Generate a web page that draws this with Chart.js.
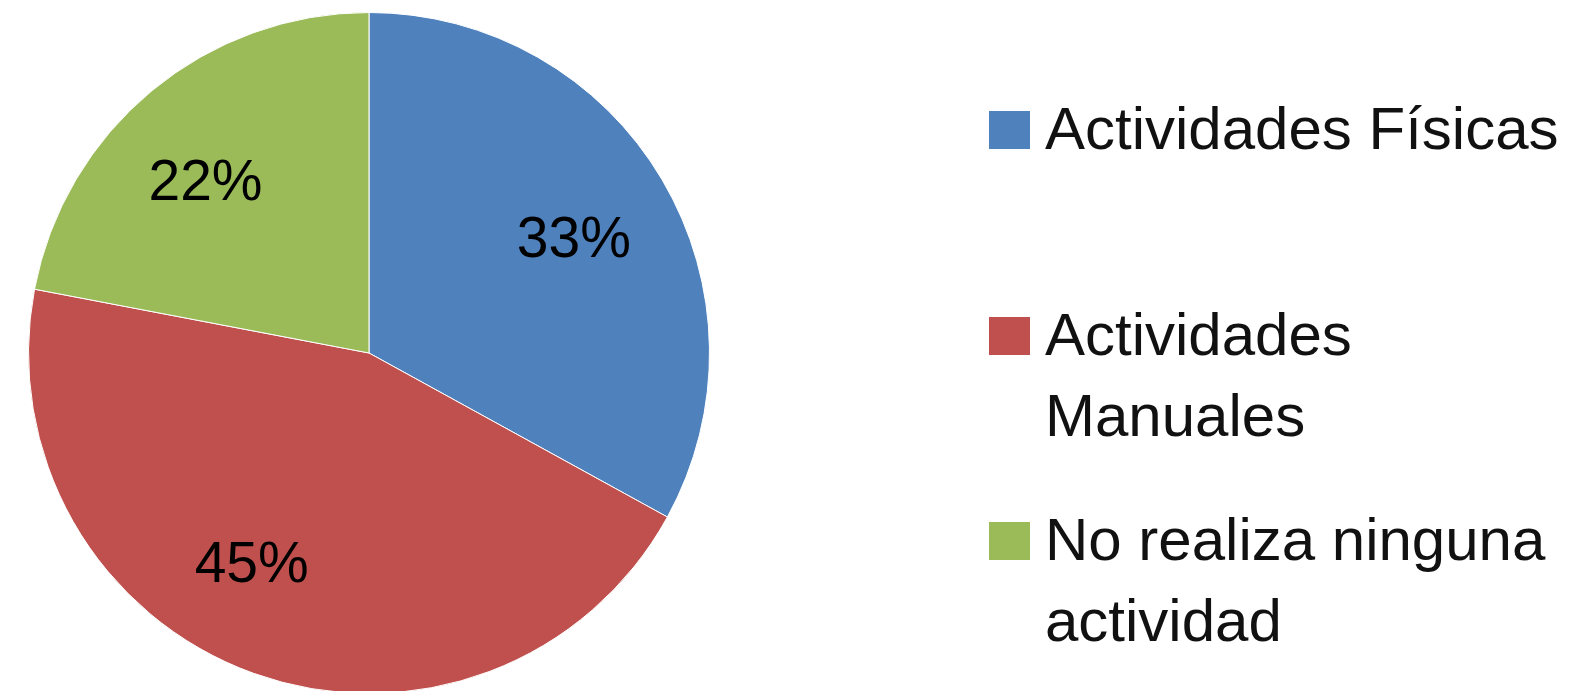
<!DOCTYPE html>
<html>
<head>
<meta charset="utf-8">
<script src="https://cdn.jsdelivr.net/npm/chart.js@4/dist/chart.umd.min.js"></script>
<style>
  html, body { margin: 0; padding: 0; background: #fff; overflow: hidden; }
  body { width: 1583px; height: 691px; position: relative; }
  #pieBox { position: absolute; left: 28px; top: 12px; width: 682px; height: 682px; }
  .legItem { position: absolute; left: 989px; }
  .legBox { position: absolute; left: 0; top: 23px; width: 41px; height: 38px; }
  .legText { position: absolute; left: 56px; top: 0; width: 535px;
             font-family: "Liberation Sans", Arial, sans-serif; font-size: 60px;
             line-height: 81px; color: #111; }
</style>
</head>
<body>
<div id="pieBox"><canvas id="pie"></canvas></div>
<div id="legend"></div>
<script>
const categories = ['Actividades Físicas', 'Actividades Manuales', 'No realiza ninguna actividad'];
const values = [33, 45, 22];
const colors = ['#4F81BD', '#C0504D', '#9BBB59'];

// percent labels drawn inside each slice (small per-slice tweaks, like Excel's best fit)
const angleTweak = [2, 9, -4.5];      // degrees
const radiusFrac = [0.685, 0.715, 0.69];

const pctLabels = {
    id: 'pctLabels',
    afterDatasetsDraw(chart) {
        const ctx = chart.ctx;
        const total = values.reduce((a, b) => a + b, 0);
        const arcs = chart.getDatasetMeta(0).data;
        ctx.save();
        ctx.font = '57px "Liberation Sans", Arial, sans-serif';
        ctx.fillStyle = '#000';
        ctx.textAlign = 'center';
        ctx.textBaseline = 'middle';
        arcs.forEach((arc, i) => {
            const p = arc.getProps(['x', 'y', 'startAngle', 'endAngle', 'outerRadius'], true);
            const mid = (p.startAngle + p.endAngle) / 2 + angleTweak[i] * Math.PI / 180;
            const r = p.outerRadius * radiusFrac[i];
            const txt = Math.round(values[i] / total * 100) + '%';
            ctx.fillText(txt, p.x + Math.cos(mid) * r, p.y + Math.sin(mid) * r);
        });
        ctx.restore();
    }
};

new Chart(document.getElementById('pie'), {
    type: 'pie',
    data: {
        labels: categories,
        datasets: [{
            data: values,
            backgroundColor: colors,
            borderColor: '#ffffff',
            borderWidth: 1
        }]
    },
    options: {
        responsive: true,
        maintainAspectRatio: false,
        animation: false,
        layout: { padding: 0 },
        plugins: {
            legend: { display: false },
            tooltip: { enabled: false }
        }
    },
    plugins: [pctLabels]
});

// legend on the right, built from the same arrays
const legend = document.getElementById('legend');
categories.forEach((name, i) => {
    const item = document.createElement('div');
    item.className = 'legItem';
    item.style.top = (88 + i * 205.5) + 'px';
    const box = document.createElement('div');
    box.className = 'legBox';
    box.style.background = colors[i];
    const txt = document.createElement('div');
    txt.className = 'legText';
    txt.textContent = name;
    item.appendChild(box);
    item.appendChild(txt);
    legend.appendChild(item);
});
</script>
</body>
</html>
